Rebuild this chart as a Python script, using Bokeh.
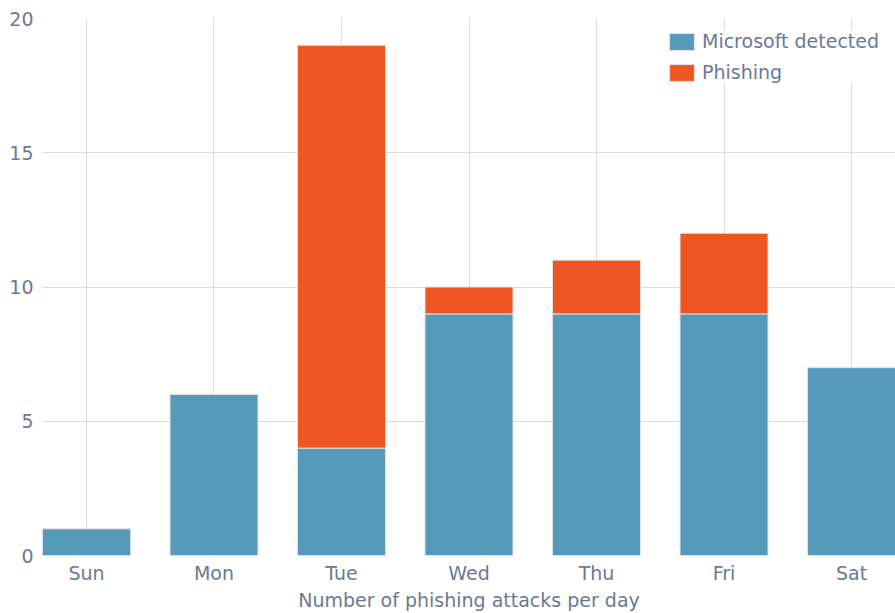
from bokeh.plotting import figure
from bokeh.models import ColumnDataSource, Range1d, FixedTicker, Legend, LegendItem
from bokeh.embed import file_html
from bokeh.resources import INLINE

days = ["Sun", "Mon", "Tue", "Wed", "Thu", "Fri", "Sat"]
microsoft_detected = [1, 6, 4, 9, 9, 9, 7]
phishing = [0, 0, 15, 1, 2, 3, 0]
y_ticks = [0, 5, 10, 15, 20]

BLUE = "#5599bb"
ORANGE = "#ee5522"
TEXT = "#6a7a92"
GRID = "#dcdcdc"
FONT = "DejaVu Sans"

xs = list(range(len(days)))
source = ColumnDataSource(dict(x=xs, ms=microsoft_detected, ph=phishing))

p = figure(width=895, height=613, output_backend="svg", toolbar_location=None,
           x_range=Range1d(-0.345, len(days) - 1 + 0.345), y_range=Range1d(0, 20),
           min_border_left=42, min_border_right=0, min_border_top=18, min_border_bottom=58)
p.outline_line_color = None
p.background_fill_color = "white"

rs = p.vbar_stack(["ms", "ph"], x="x", width=0.69, source=source,
                  color=[BLUE, ORANGE], line_color="#e0e0e0", line_width=1)

p.xaxis.ticker = FixedTicker(ticks=xs)
p.xaxis.major_label_overrides = {i: d for i, d in enumerate(days)}
p.yaxis.ticker = FixedTicker(ticks=y_ticks)

for ax in (p.xaxis[0], p.yaxis[0]):
    ax.axis_line_color = None
    ax.major_tick_line_color = None
    ax.minor_tick_line_color = None
    ax.major_tick_out = 0
    ax.major_tick_in = 0
    ax.minor_tick_out = 0
    ax.minor_tick_in = 0
    ax.major_label_text_color = TEXT
    ax.major_label_text_font = FONT
    ax.major_label_text_font_size = "19px"
    ax.axis_label_text_color = TEXT
    ax.axis_label_text_font = FONT
    ax.axis_label_text_font_size = "19px"
    ax.axis_label_text_font_style = "normal"

p.xaxis.major_label_standoff = 6
p.yaxis.major_label_standoff = 9
p.xaxis.axis_label = "Number of phishing attacks per day"
p.xaxis.axis_label_standoff = 2

p.xgrid.grid_line_color = GRID
p.ygrid.grid_line_color = GRID
p.xgrid.grid_line_width = 1
p.ygrid.grid_line_width = 1

legend = Legend(items=[LegendItem(label="Microsoft detected", renderers=[rs[0]]),
                       LegendItem(label="Phishing", renderers=[rs[1]])],
                location=(624, 472), margin=0, padding=9, spacing=9,
                glyph_width=31, glyph_height=21, label_standoff=5,
                label_text_font=FONT, label_text_font_size="19px", label_text_color=TEXT,
                border_line_color=None, background_fill_color="white", background_fill_alpha=1.0)
p.add_layout(legend)

open("out.html", "w").write(file_html(p, INLINE))
